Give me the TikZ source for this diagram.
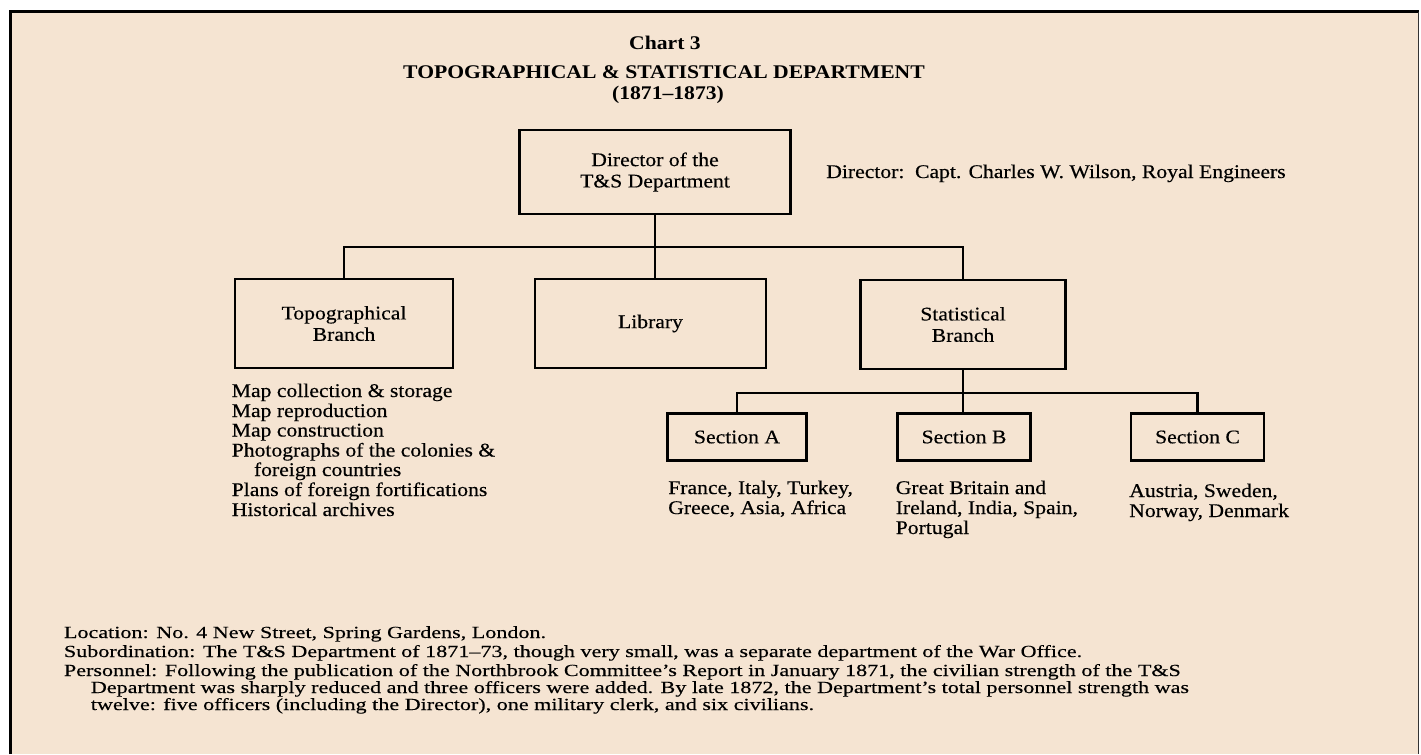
\documentclass[tikz,border=0pt]{standalone}
\usepackage{fontspec}
\setmainfont{Liberation Serif}[FakeStretch=1.12,UprightFeatures={FakeBold=0.35}]
\newfontfamily\notefont{Liberation Serif}[FakeStretch=1.3,FakeBold=0.3]
\definecolor{paper}{RGB}{245,228,210}
\newcommand\dtxt{\fontsize{14.5}{16}\selectfont}
\newcommand\ntxt{\notefont\fontsize{12.75}{14}\selectfont}
\begin{document}
\begin{tikzpicture}[x=0.75pt,y=-0.75pt,
  box/.style={draw=black,line width=2pt,inner sep=0pt,align=center,font=\dtxt},
  conn/.style={line width=2pt},
  lbl/.style={inner sep=0pt,anchor=base west,font=\dtxt},
  note/.style={inner sep=0pt,anchor=base west,font=\ntxt},
  ttl/.style={inner sep=0pt,anchor=base,font=\bfseries\dtxt},
]
\useasboundingbox (0,0) rectangle (1421,754);
\fill[white] (0,0) rectangle (1421,754);
\fill[paper] (12,13) rectangle (1418,754);
\draw[line width=2.25pt] (10.5,754) -- (10.5,11.5) -- (1418.5,11.5);
\draw[line width=1.1pt,black!80] (1418.5,11.5) -- (1418.5,754);

% title
\node[ttl] (chart) at (665,49) {Chart 3};
\node[ttl] (dept) at (664,78) {TOPOGRAPHICAL \& STATISTICAL DEPARTMENT};
\node[ttl] (years) at (668,99) {(1871–1873)};

% boxes
\node[box,minimum width=203.6pt,minimum height=63pt] (dir) at (655,172) {Director of the\\T\&S Department};
\node[box,minimum width=163.5pt,minimum height=66.75pt] (topo) at (344,323.5) {Topographical\\Branch};
\node[box,minimum width=173.25pt,minimum height=66.75pt] (lib) at (650.5,323.5) {Library};
\node[box,minimum width=153.75pt,minimum height=66.75pt] (stat) at (963,324.5) {Statistical\\Branch};
\node[box,minimum width=104pt,minimum height=35pt] (secA) at (737,437) {Section A};
\node[box,minimum width=99.4pt,minimum height=35pt] (secB) at (964,437) {Section B};
\node[box,minimum width=99.75pt,minimum height=35pt] (secC) at (1197.5,437) {Section C};

\node[lbl] (dirname) at (826,178) {Director:\hspace{0.55em}Capt. Charles W. Wilson, Royal Engineers};

% connectors
\coordinate (bus) at (655,247);
\coordinate (sbus) at (964,393);
\draw[conn] (dir.south) -- (dir.south |- lib.north);
\draw[conn] (topo.north) |- (bus) -| (stat.north);
\draw[conn] (stat.south) -- (stat.south |- secB.north);
\draw[conn] (secA.north) |- (sbus) -| (secC.north);

% topographical functions
\node[lbl] (f1) at (231.5,397) {Map collection \& storage};
\node[lbl] (f2) at (231.5,417) {Map reproduction};
\node[lbl] (f3) at (231.5,436.5) {Map construction};
\node[lbl] (f4) at (231.5,456.5) {Photographs of the colonies \&};
\node[lbl] (f5) at (253.7,476) {foreign countries};
\node[lbl] (f6) at (231.5,496) {Plans of foreign fortifications};
\node[lbl] (f7) at (231.5,516) {Historical archives};

% section countries
\node[lbl] (a1) at (668,494) {France, Italy, Turkey,};
\node[lbl] (a2) at (668,514) {Greece, Asia, Africa};
\node[lbl] (b1) at (895.5,494) {Great Britain and};
\node[lbl] (b2) at (895.5,514) {Ireland, India, Spain,};
\node[lbl] (b3) at (895.5,534) {Portugal};
\node[lbl] (c1) at (1129,497) {Austria, Sweden,};
\node[lbl] (c2) at (1129,517) {Norway, Denmark};

% notes
\node[note] (n1) at (63.7,638) {Location:\hspace{0.45em}No. 4 New Street, Spring Gardens, London.};
\node[note] (n2) at (63.7,657) {Subordination:\hspace{0.45em}The T\&S Department of 1871–73, though very small, was a separate department of the War Office.};
\node[note] (n3) at (63.7,676) {Personnel:\hspace{0.45em}Following the publication of the Northbrook Committee’s Report in January 1871, the civilian strength of the T\&S};
\node[note] (n4) at (90.6,693) {Department was sharply reduced and three officers were added. By late 1872, the Department’s total personnel strength was};
\node[note] (n5) at (90.6,710) {twelve: five officers (including the Director), one military clerk, and six civilians.};
\end{tikzpicture}
\end{document}
